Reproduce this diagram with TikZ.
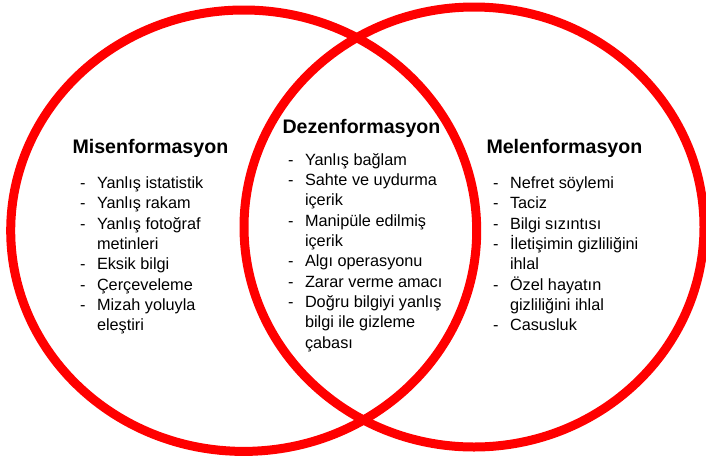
\documentclass[tikz,border=0pt]{standalone}
\usepackage{fontspec}
\setmainfont{Liberation Sans}
\definecolor{vennred}{RGB}{255,0,0}
\tikzset{every picture/.style={line width=0.75pt}}
\tikzset{
  vennring/.style={color=vennred, line width=6.75pt},
  headtxt/.style={anchor=base west, inner sep=0pt, font=\fontsize{14.7}{17}\selectfont\bfseries},
  listtxt/.style={anchor=base west, inner sep=0pt, align=left, font=\fontsize{12.2}{15.25}\selectfont}
}
\newcommand{\itm}[1]{\makebox[12.75pt][l]{-}#1}
\newcommand{\cnt}[1]{\hspace*{12.75pt}#1}

\begin{document}
\begin{tikzpicture}[x=0.75pt,y=0.75pt,yscale=-1,xscale=1]
\useasboundingbox (0,0) rectangle (706,461);

%Shape: Ellipse left
\draw [vennring] (243.7,230.7) ellipse [x radius=233, y radius=220.7];
%Shape: Ellipse right
\draw [vennring] (474,227) ellipse [x radius=230, y radius=220];

% Text Node (lists are placed by the baseline of their last line)
\node (mis) at (72,153) [headtxt] {Misenformasyon};
% Text Node
\node (mislist) at (79.5,330.7) [listtxt] {\itm{Yanlış istatistik}\\
\itm{Yanlış rakam}\\
\itm{Yanlış fotoğraf}\\
\cnt{metinleri}\\
\itm{Eksik bilgi}\\
\itm{Çerçeveleme}\\
\itm{Mizah yoluyla}\\
\cnt{eleştiri}};

% Text Node
\node (dez) at (282,133.3) [headtxt] {Dezenformasyon};
% Text Node
\node (dezlist) at (287.5,348.3) [listtxt] {\itm{Yanlış bağlam}\\
\itm{Sahte ve uydurma}\\
\cnt{içerik}\\
\itm{Manipüle edilmiş}\\
\cnt{içerik}\\
\itm{Algı operasyonu}\\
\itm{Zarar verme amacı}\\
\itm{Doğru bilgiyi yanlış}\\
\cnt{bilgi ile gizleme}\\
\cnt{çabası}};

% Text Node
\node (mel) at (486,153.3) [headtxt] {Melenformasyon};
% Text Node
\node (mellist) at (492.5,330.7) [listtxt] {\itm{Nefret söylemi}\\
\itm{Taciz}\\
\itm{Bilgi sızıntısı}\\
\itm{İletişimin gizliliğini}\\
\cnt{ihlal}\\
\itm{Özel hayatın}\\
\cnt{gizliliğini ihlal}\\
\itm{Casusluk}};
\end{tikzpicture}
\end{document}
